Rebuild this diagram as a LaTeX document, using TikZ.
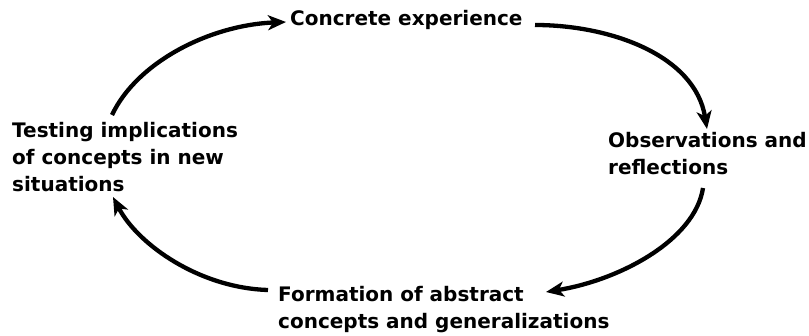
\documentclass[tikz,border=0pt]{standalone}
\usepackage{fontspec}
\setmainfont{DejaVu Sans}
\usetikzlibrary{arrows.meta}
\begin{document}
\begin{tikzpicture}[x=1pt,y=-1pt,
  lbl/.style={font=\bfseries\fontsize{20}{27}\selectfont, inner sep=0pt, align=left, anchor=west},
  cyc/.style={line width=4.3pt, -{Stealth[length=18pt,width=15pt,inset=5pt]}}]
\useasboundingbox (0,0) rectangle (809,336);
\node[lbl] (ce) at (290,20) {Concrete experience};
\node[lbl] (ob) at (608,154) {Observations and\\reflections};
\node[lbl] (fo) at (278,310) {Formation of abstract\\concepts and generalizations};
\node[lbl] (te) at (12,157) {Testing implications\\of concepts in new\\situations};
\coordinate (a1s) at (112,115); \coordinate (a1e) at (286,22);
\coordinate (a2s) at (535,25);  \coordinate (a2e) at (707,129);
\coordinate (a3s) at (703,188); \coordinate (a3e) at (546,292);
\coordinate (a4s) at (268,290); \coordinate (a4e) at (113,197);
\draw[cyc] (a1s) .. controls (137,62) and (210,25) .. (a1e);
\draw[cyc] (a2s) .. controls (610,25) and (695,55) .. (a2e);
\draw[cyc] (a3s) .. controls (695,240) and (620,280) .. (a3e);
\draw[cyc] (a4s) .. controls (200,288) and (138,245) .. (a4e);
\end{tikzpicture}
\end{document}
